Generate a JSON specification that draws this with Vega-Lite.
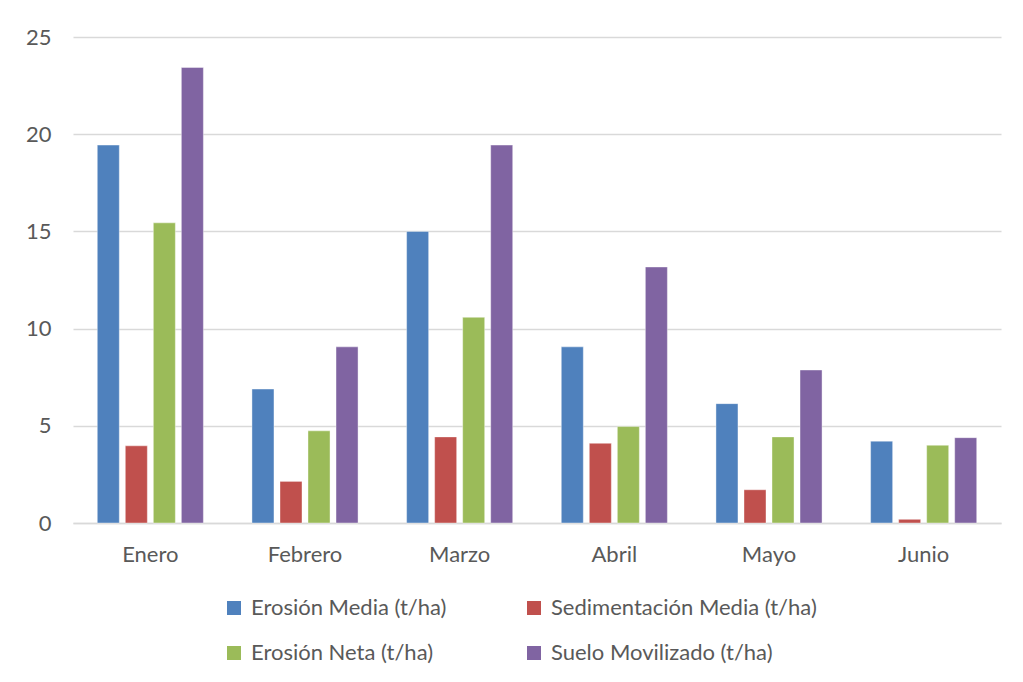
{
  "$schema": "https://vega.github.io/schema/vega-lite/v6.json",
  "width": 928,
  "height": 486,
  "autosize": {"type": "none"},
  "padding": {"left": 73, "top": 37, "right": 22, "bottom": 159},
  "background": "white",
  "config": {
    "font": "Lato",
    "view": {"stroke": null},
    "axis": {"labelColor": "#595959", "labelFont": "Lato", "labelFontSize": 22}
  },
  "data": {
    "values": [
      {"mes": "Enero", "serie": "Erosión Media (t/ha)", "valor": 19.44},
      {"mes": "Enero", "serie": "Sedimentación Media (t/ha)", "valor": 3.97},
      {"mes": "Enero", "serie": "Erosión Neta (t/ha)", "valor": 15.44},
      {"mes": "Enero", "serie": "Suelo Movilizado (t/ha)", "valor": 23.43},
      {"mes": "Febrero", "serie": "Erosión Media (t/ha)", "valor": 6.89},
      {"mes": "Febrero", "serie": "Sedimentación Media (t/ha)", "valor": 2.14},
      {"mes": "Febrero", "serie": "Erosión Neta (t/ha)", "valor": 4.74},
      {"mes": "Febrero", "serie": "Suelo Movilizado (t/ha)", "valor": 9.06},
      {"mes": "Marzo", "serie": "Erosión Media (t/ha)", "valor": 15.0},
      {"mes": "Marzo", "serie": "Sedimentación Media (t/ha)", "valor": 4.43},
      {"mes": "Marzo", "serie": "Erosión Neta (t/ha)", "valor": 10.58},
      {"mes": "Marzo", "serie": "Suelo Movilizado (t/ha)", "valor": 19.44},
      {"mes": "Abril", "serie": "Erosión Media (t/ha)", "valor": 9.06},
      {"mes": "Abril", "serie": "Sedimentación Media (t/ha)", "valor": 4.1},
      {"mes": "Abril", "serie": "Erosión Neta (t/ha)", "valor": 4.96},
      {"mes": "Abril", "serie": "Suelo Movilizado (t/ha)", "valor": 13.17},
      {"mes": "Mayo", "serie": "Erosión Media (t/ha)", "valor": 6.14},
      {"mes": "Mayo", "serie": "Sedimentación Media (t/ha)", "valor": 1.71},
      {"mes": "Mayo", "serie": "Erosión Neta (t/ha)", "valor": 4.43},
      {"mes": "Mayo", "serie": "Suelo Movilizado (t/ha)", "valor": 7.87},
      {"mes": "Junio", "serie": "Erosión Media (t/ha)", "valor": 4.21},
      {"mes": "Junio", "serie": "Sedimentación Media (t/ha)", "valor": 0.19},
      {"mes": "Junio", "serie": "Erosión Neta (t/ha)", "valor": 4.0},
      {"mes": "Junio", "serie": "Suelo Movilizado (t/ha)", "valor": 4.39}
    ]
  },
  "mark": {"type": "bar", "stroke": "white", "strokeOpacity": 0.5, "strokeWidth": 0.8},
  "encoding": {
    "x": {
      "field": "mes",
      "type": "nominal",
      "sort": ["Enero", "Febrero", "Marzo", "Abril", "Mayo", "Junio"],
      "scale": {"paddingInner": 0.314, "paddingOuter": 0.157},
      "axis": {
        "title": null,
        "labelAngle": 0,
        "ticks": false,
        "domain": true,
        "domainColor": "#d9d9d9",
        "domainWidth": 1.5,
        "labelPadding": 21
      }
    },
    "xOffset": {
      "field": "serie",
      "type": "nominal",
      "sort": ["Erosión Media (t/ha)", "Sedimentación Media (t/ha)", "Erosión Neta (t/ha)", "Suelo Movilizado (t/ha)"],
      "scale": {"paddingInner": 0.214, "paddingOuter": 0}
    },
    "y": {
      "field": "valor",
      "type": "quantitative",
      "scale": {"domain": [0, 25], "nice": false},
      "axis": {
        "title": null,
        "values": [0, 5, 10, 15, 20, 25],
        "domain": false,
        "ticks": false,
        "gridColor": "#d9d9d9",
        "gridWidth": 1.5,
        "labelPadding": 22
      }
    },
    "color": {
      "field": "serie",
      "type": "nominal",
      "scale": {
        "domain": ["Erosión Media (t/ha)", "Erosión Neta (t/ha)", "Sedimentación Media (t/ha)", "Suelo Movilizado (t/ha)"],
        "range": ["#4f81bd", "#9bbb59", "#c0504d", "#8064a2"]
      },
      "legend": {
        "title": null,
        "orient": "none",
        "legendX": 150,
        "legendY": 560,
        "padding": 0,
        "columns": 2,
        "columnPadding": 76,
        "rowPadding": 23,
        "symbolType": "square",
        "symbolSize": 196,
        "symbolStrokeWidth": 0,
        "labelFont": "Lato",
        "labelFontSize": 22,
        "labelColor": "#595959",
        "labelOffset": 6,
        "labelLimit": 0
      }
    }
  }
}
